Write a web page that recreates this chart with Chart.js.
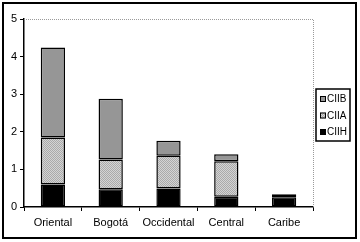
<!DOCTYPE html>
<html><head><meta charset="utf-8">
<script src="https://cdn.jsdelivr.net/npm/chart.js@4/dist/chart.umd.min.js"></script>
<style>html,body{margin:0;padding:0;background:#fff}#wrap{width:360px;height:242px;position:relative}</style>
</head><body><div id="wrap"><canvas id="c" width="360" height="242"></canvas></div>
<script>
const categories = ['Oriental','Bogotá','Occidental','Central','Caribe'];
const ciih = [0.60, 0.47, 0.49, 0.27, 0.26];
const ciia = [1.25, 0.79, 0.87, 0.95, 0.03];
const ciib = [2.39, 1.62, 0.40, 0.18, 0.05];
const yTicks = [0,1,2,3,4,5];

function dotPattern(){
  const p=document.createElement('canvas');p.width=2;p.height=2;
  const g=p.getContext('2d');
  g.fillStyle='#d4d4d4';g.fillRect(0,0,2,2);
  g.fillStyle='#aaaaaa';g.fillRect(0,0,1,1);g.fillRect(1,1,1,1);
  return g.createPattern(p,'repeat');
}
const pat = dotPattern();

const frame = {
  id:'frame',
  afterDraw(chart){
    const ctx=chart.ctx, a=chart.chartArea;
    ctx.save();
    ctx.strokeStyle='#9a9a9a';ctx.lineWidth=1;ctx.setLineDash([1,1]);
    ctx.beginPath();ctx.moveTo(a.left,a.top+0.5);ctx.lineTo(a.right+0.5,a.top+0.5);ctx.lineTo(a.right+0.5,a.bottom);ctx.stroke();
    ctx.setLineDash([]);
    ctx.strokeStyle='#000';ctx.lineWidth=2;
    ctx.strokeRect(3,3,353,235);
    const lx=316, ly=89, lw=34, lh=52;
    ctx.lineWidth=1.5;ctx.strokeRect(lx,ly,lw,lh);
    const ds=chart.data.datasets;
    const order=[2,1,0];
    ctx.font='10px "Liberation Sans", Arial, sans-serif';
    ctx.textBaseline='middle';ctx.fillStyle='#000';
    order.forEach((di,i)=>{
      const y=ly+10+i*16.5;
      ctx.fillStyle=ds[di].backgroundColor;
      ctx.fillRect(lx+4,y-3,6,6);
      ctx.strokeStyle='#000';ctx.lineWidth=1;
      ctx.strokeRect(lx+4.5,y-2.5,5,5);
      ctx.fillStyle='#000';
      ctx.fillText(ds[di].label,lx+11,y+0.5);
    });
    ctx.restore();
  }
};

new Chart(document.getElementById('c'),{
  type:'bar',
  data:{labels:categories,datasets:[
    {label:'CIIH',data:ciih,backgroundColor:'#000000'},
    {label:'CIIA',data:ciia,backgroundColor:pat},
    {label:'CIIB',data:ciib,backgroundColor:'#969696'}
  ].map(d=>Object.assign(d,{borderColor:'#000',borderWidth:1.5,borderSkipped:false,barPercentage:1,categoryPercentage:0.42}))},
  options:{
    responsive:false,animation:false,devicePixelRatio:1,
    layout:{padding:{left:0,top:19,right:47,bottom:0}},
    plugins:{legend:{display:false},tooltip:{enabled:false}},
    scales:{
      x:{stacked:true,
        grid:{drawOnChartArea:false,drawTicks:true,tickLength:4,color:'#000'},
        border:{display:true,color:'#000',width:1.5},
        ticks:{color:'#000',font:{family:'"Liberation Sans", Arial, sans-serif',size:11},padding:5,maxRotation:0,minRotation:0,autoSkip:false},
        afterFit(s){s.height=35;}
      },
      y:{stacked:true,min:0,max:5,
        afterBuildTicks(s){s.ticks=yTicks.map(v=>({value:v}));},
        grid:{drawOnChartArea:false,drawTicks:true,tickLength:4,color:'#000'},
        border:{display:true,color:'#000',width:1.5},
        ticks:{color:'#000',font:{family:'"Liberation Sans", Arial, sans-serif',size:11},padding:3},
        afterFit(s){s.width=24;}
      }
    }
  },
  plugins:[frame]
});
</script></body></html>
